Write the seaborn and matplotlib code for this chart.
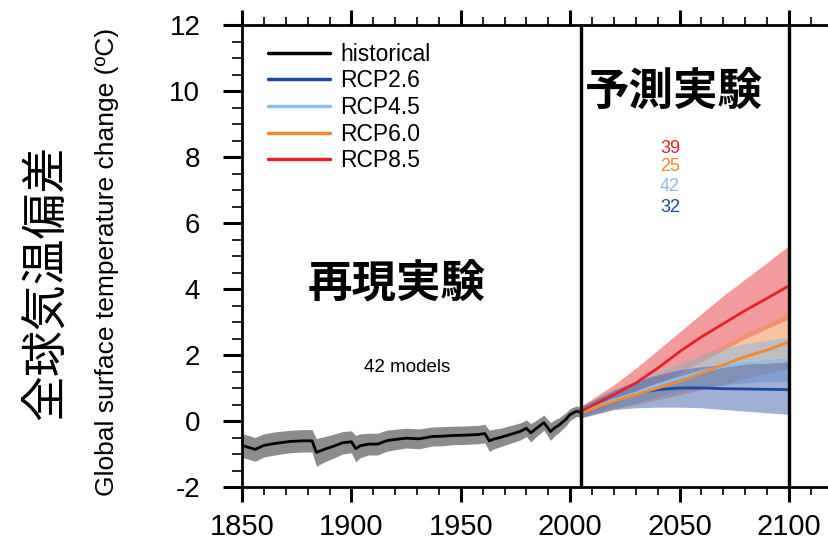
import numpy as np
import pandas as pd
import matplotlib
matplotlib.use("Agg")
import matplotlib.pyplot as plt
from matplotlib.ticker import MultipleLocator
import seaborn as sns

# historical run (multi-model mean and spread)
hist_years = [1850, 1856, 1860, 1865, 1872, 1878, 1882, 1884, 1888, 1892, 1896, 1900,
              1902, 1904, 1908, 1912, 1916, 1920, 1925, 1931, 1937, 1942, 1946, 1952,
              1958, 1961, 1963, 1965, 1968, 1972, 1977, 1980, 1982, 1984, 1986, 1988,
              1991, 1993, 1995, 1998, 2000, 2003, 2005]
hist_mean = [-0.74, -0.86, -0.74, -0.68, -0.62, -0.60, -0.60, -0.95, -0.85, -0.76, -0.66, -0.63,
             -0.84, -0.75, -0.70, -0.70, -0.60, -0.56, -0.52, -0.54, -0.47, -0.46, -0.44, -0.43,
             -0.41, -0.38, -0.60, -0.55, -0.50, -0.42, -0.32, -0.22, -0.36, -0.25, -0.15, -0.05,
             -0.32, -0.20, -0.12, 0.05, 0.20, 0.30, 0.25]
hist_spread = [0.36, 0.36, 0.35, 0.35, 0.34, 0.34, 0.34, 0.42, 0.38, 0.36, 0.34, 0.33,
               0.40, 0.36, 0.33, 0.33, 0.32, 0.31, 0.30, 0.30, 0.29, 0.29, 0.28, 0.28,
               0.28, 0.28, 0.32, 0.30, 0.28, 0.27, 0.26, 0.25, 0.28, 0.25, 0.24, 0.23,
               0.27, 0.24, 0.22, 0.20, 0.18, 0.16, 0.15]

# projections
proj_years = [2005, 2020, 2030, 2040, 2050, 2060, 2070, 2080, 2090, 2100]
rcp85_mean = [0.30, 0.80, 1.15, 1.60, 2.10, 2.55, 2.95, 3.35, 3.72, 4.10]
rcp85_hi = [0.45, 1.10, 1.60, 2.15, 2.70, 3.25, 3.80, 4.30, 4.80, 5.32]
rcp85_lo = [0.10, 0.50, 0.80, 1.10, 1.45, 1.80, 2.15, 2.50, 2.80, 3.10]
rcp60_mean = [0.25, 0.60, 0.80, 1.00, 1.20, 1.45, 1.70, 1.95, 2.15, 2.40]
rcp60_hi = [0.40, 0.85, 1.15, 1.45, 1.70, 2.00, 2.30, 2.65, 2.95, 3.30]
rcp60_lo = [0.10, 0.35, 0.50, 0.65, 0.80, 0.95, 1.10, 1.30, 1.45, 1.60]
rcp45_mean = [0.25, 0.65, 0.85, 1.10, 1.30, 1.50, 1.65, 1.75, 1.80, 1.85]
rcp45_hi = [0.40, 0.90, 1.20, 1.50, 1.75, 2.00, 2.20, 2.35, 2.45, 2.55]
rcp45_lo = [0.10, 0.40, 0.55, 0.75, 0.90, 1.00, 1.10, 1.15, 1.20, 1.20]
rcp26_mean = [0.25, 0.65, 0.85, 0.95, 1.00, 1.00, 0.98, 0.97, 0.96, 0.95]
rcp26_hi = [0.45, 0.95, 1.20, 1.40, 1.55, 1.65, 1.70, 1.75, 1.75, 1.80]
rcp26_lo = [0.10, 0.35, 0.40, 0.42, 0.42, 0.40, 0.35, 0.30, 0.25, 0.20]

scenarios = ["RCP8.5", "RCP6.0", "RCP4.5", "RCP2.6"]
model_counts = ["39", "25", "42", "32"]
line_colors = {"RCP2.6": "#1f4a9a", "RCP4.5": "#8ebde8", "RCP6.0": "#f08a32", "RCP8.5": "#e3222a"}
band_colors = {"RCP2.6": "#3f62ae", "RCP4.5": "#8ab8e0", "RCP6.0": "#f08a45", "RCP8.5": "#e8393d"}

sns.set_style("white")
plt.rcParams['font.family'] = ['Liberation Sans', 'DejaVu Sans']
plt.rcParams['text.color'] = 'black'
plt.rcParams['xtick.color'] = 'black'
plt.rcParams['ytick.color'] = 'black'
plt.rcParams['axes.unicode_minus'] = False
jp = ['Noto Sans CJK JP', 'DejaVu Sans']

fig = plt.figure(figsize=(8.29, 5.46), dpi=100)
x0, x1 = 1850, 2125
ppy = 547 / 250.0  # px per year
ax = fig.add_axes([242 / 829, 59 / 546, (x1 - x0) * ppy / 829, 462 / 546])

proj = {
    "RCP8.5": (rcp85_mean, rcp85_lo, rcp85_hi),
    "RCP6.0": (rcp60_mean, rcp60_lo, rcp60_hi),
    "RCP4.5": (rcp45_mean, rcp45_lo, rcp45_hi),
    "RCP2.6": (rcp26_mean, rcp26_lo, rcp26_hi),
}

# bands
h = pd.DataFrame({"year": hist_years, "mean": hist_mean, "spread": hist_spread})
ax.fill_between(h["year"], h["mean"] - h["spread"], h["mean"] + h["spread"],
                color="#8c8c8c", lw=0)
for s in scenarios:
    m, lo, hi = proj[s]
    ax.fill_between(proj_years, lo, hi, color=band_colors[s], alpha=0.5, lw=0)

# lines
sns.lineplot(data=h, x="year", y="mean", color="black", lw=2.0, label="historical", ax=ax)
for s in ["RCP2.6", "RCP4.5", "RCP6.0", "RCP8.5"]:
    m = proj[s][0]
    sns.lineplot(x=proj_years, y=m, color=line_colors[s], lw=2.0, label=s, ax=ax)

ax.axvline(2005, color="black", lw=2.4)
ax.axvline(2100, color="black", lw=2.4)

ax.set_xlim(x0, x1)
ax.set_ylim(-2, 12)
ax.set_xticks([1850, 1900, 1950, 2000, 2050, 2100])
ax.xaxis.set_minor_locator(MultipleLocator(10))
ax.yaxis.set_minor_locator(MultipleLocator(0.5))
ax.set_yticks(range(-2, 13, 2))
ax.tick_params(axis="x", which="major", direction="out", length=11, width=2.2,
               labelsize=21, pad=8, top=True, bottom=True)
ax.tick_params(axis="x", which="minor", direction="out", length=6, width=1.2,
               top=True, bottom=True)
ax.tick_params(axis="y", which="major", direction="out", length=14, width=2.2,
               labelsize=20, pad=16, left=True)
ax.tick_params(axis="y", which="minor", direction="out", length=7, width=1.2, left=True)
ax.set_xlabel("")
ax.set_ylabel("")
for side in ["left", "bottom", "top"]:
    ax.spines[side].set_linewidth(2)
    ax.spines[side].set_color("black")
ax.spines["right"].set_visible(False)

leg = ax.legend(loc="upper left", bbox_to_anchor=(0.043, 0.962), frameon=False,
                fontsize=16.5, handlelength=2.7, handletextpad=0.45,
                labelspacing=0.16, borderpad=0, borderaxespad=0)
for ln in leg.get_lines():
    ln.set_linewidth(2.5)

# model counts
count_y = [8.26, 7.71, 7.10, 6.46]
for s, c, yv in zip(scenarios, model_counts, count_y):
    ax.text(2045.6, yv, c, color=line_colors[s], fontsize=13, ha="center", va="center")
ax.text(1925.4, 1.63, "42 models", fontsize=13.5, ha="center", va="center")

ax.text(1920.5, 4.15, "再現実験", family=jp, fontsize=32, fontweight="bold",
        ha="center", va="center")
ax.text(2047.5, 9.95, "予測実験", family=jp, fontsize=32, fontweight="bold",
        ha="center", va="center")

fig.text(107 / 829, 1 - 262 / 546, "Global surface temperature change (ºC)",
         rotation=90, ha="center", va="center", fontsize=19,
         family=['Liberation Sans Narrow', 'Liberation Sans', 'DejaVu Sans'])
fig.text(46 / 829, 1 - 282 / 546, "全球気温偏差", rotation=90, ha="center", va="center",
         fontsize=33, family=jp)

fig.savefig("out.png", dpi=100, facecolor="white")
